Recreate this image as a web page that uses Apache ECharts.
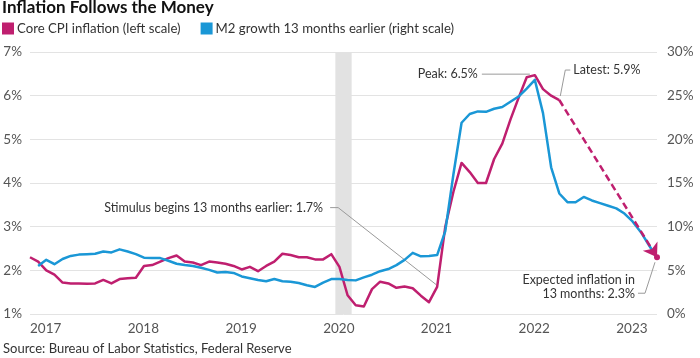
<!DOCTYPE html>
<html>
<head>
<meta charset="utf-8">
<script src="https://cdn.jsdelivr.net/npm/echarts@6/dist/echarts.min.js"></script>
<style>
html,body{margin:0;padding:0;background:#fff;}
#chart{width:700px;height:358px;}
</style>
</head>
<body>
<div id="chart"></div>
<script>
// Month index 0 = Jan 2017 ... 77 = Jun 2023
const yearLabels = ['2017','2018','2019','2020','2021','2022','2023'];
const lastMonthIndex = 77;

// Core CPI inflation, % y/y, Jan 2017 - Jun 2022 (left scale)
const coreCPI = [
  2.3,2.2,2.0,1.9,1.72,1.7,1.7,1.69,1.7,1.78,1.7,1.8,
  1.82,1.83,2.1,2.12,2.2,2.28,2.34,2.2,2.18,2.12,2.2,2.18,
  2.15,2.1,2.02,2.08,1.98,2.1,2.2,2.38,2.35,2.3,2.3,2.25,
  2.25,2.37,2.08,1.43,1.2,1.17,1.57,1.74,1.7,1.6,1.63,1.59,
  1.42,1.27,1.62,3.0,3.8,4.46,4.25,4.0,4.0,4.55,4.9,5.45,
  5.95,6.42,6.47,6.15,6.0,5.9
];

// M2 growth 13 months earlier, % y/y, plotted Jan 2017 - Jun 2023 (right scale)
const m2Lagged = [
  null,5.5,6.2,5.7,6.3,6.65,6.8,6.85,6.9,7.15,7.05,7.4,
  7.15,6.85,6.45,6.4,6.4,6.1,5.75,5.6,5.5,5.3,5.05,4.75,
  4.8,4.7,4.3,4.1,3.9,3.75,4.0,3.75,3.7,3.55,3.3,3.1,
  3.6,4.0,4.0,3.9,3.85,4.2,4.5,4.9,5.15,5.6,6.2,7.0,
  6.6,6.65,6.75,9.5,16.0,21.9,22.9,23.2,23.15,23.5,23.7,24.3,
  24.9,25.8,26.8,23.0,16.8,13.8,12.8,12.8,13.4,13.0,12.7,12.4,
  12.1,11.5,10.6,9.4,7.9,6.4
];

// Projection: latest core CPI (Jun 2022) to expected in 13 months (Jun 2023)
const projMonths = [65, 77];
const projValues = [5.9, 2.3];

// Recession shading (Feb-Apr 2020), month index
const recession = [37.5, 39.5];

// Annotated points
const peakPoint = [62, 6.47];
const stimulusPoint = [50, 1.65];

const MAG = '#bf1f6f';
const BLUE = '#1a97d6';
const FONT = 'Lato, "Noto Sans", sans-serif';

const cpiData = coreCPI.map((v, i) => [i, v]);
const m2Data = m2Lagged.map((v, i) => [i, v]);

const chart = echarts.init(document.getElementById('chart'), null, {renderer: 'canvas'});

const option = {
  animation: false,
  backgroundColor: '#fff',
  textStyle: {fontFamily: FONT},
  title: {
    text: 'Inflation Follows the Money',
    left: 2, top: -1, padding: 0,
    textStyle: {fontFamily: FONT, fontSize: 17, fontWeight: 'bold', color: '#111'}
  },
  legend: {
    left: 2, top: 22, padding: 0,
    itemWidth: 12, itemHeight: 12, itemGap: 20,
    icon: 'rect',
    textStyle: {fontFamily: FONT, fontSize: 13.2, color: '#333', padding: [0, 0, 0, -2]},
    data: ['Core CPI inflation (left scale)', 'M2 growth 13 months earlier (right scale)']
  },
  grid: {left: 30, right: 43, top: 52, bottom: 44, containLabel: false},
  xAxis: {
    type: 'value', min: 0, max: lastMonthIndex, interval: 12,
    axisLine: {show: false}, axisTick: {show: false}, splitLine: {show: false},
    axisLabel: {
      showMaxLabel: false,
      formatter: v => (v % 12 === 0 ? yearLabels[v / 12] : ''),
      align: 'left', margin: 8, color: '#555', fontSize: 13.5, fontFamily: FONT
    }
  },
  yAxis: [
    {
      type: 'value', min: 1, max: 7, interval: 1,
      axisLine: {show: false}, axisTick: {show: false},
      splitLine: {lineStyle: {color: '#e3e3e3', width: 1}},
      axisLabel: {formatter: '{value}%', color: '#555', fontSize: 13.5, margin: 8, fontFamily: FONT}
    },
    {
      type: 'value', min: 0, max: 30, interval: 5, position: 'right',
      axisLine: {show: false}, axisTick: {show: false}, splitLine: {show: false},
      axisLabel: {formatter: '{value}%', color: '#555', fontSize: 13.5, margin: 10, fontFamily: FONT}
    }
  ],
  series: [
    {
      name: 'Core CPI inflation (left scale)',
      type: 'line', yAxisIndex: 0, data: cpiData,
      showSymbol: false, symbol: 'none',
      lineStyle: {color: MAG, width: 2.5, join: 'round'},
      itemStyle: {color: MAG},
      z: 3,
      markArea: {
        silent: true,
        itemStyle: {color: '#e2e2e2'},
        data: [[{xAxis: recession[0]}, {xAxis: recession[1]}]],
        z: 1
      }
    },
    {
      name: 'M2 growth 13 months earlier (right scale)',
      type: 'line', yAxisIndex: 1, data: m2Data,
      showSymbol: false, symbol: 'none', connectNulls: false,
      lineStyle: {color: BLUE, width: 2.5, join: 'round'},
      itemStyle: {color: BLUE},
      z: 4
    },
    {
      name: 'projection',
      type: 'line', yAxisIndex: 0,
      data: [[projMonths[1], projValues[1]]],
      symbol: 'circle', symbolSize: 6, showSymbol: true,
      itemStyle: {color: MAG},
      lineStyle: {width: 0},
      z: 6,
      markLine: {
        silent: true,
        symbol: ['none', 'arrow'], symbolSize: 13,
        label: {show: false},
        itemStyle: {color: MAG},
        lineStyle: {color: MAG, width: 2.5, type: [7, 4]},
        data: [[{coord: [projMonths[0], projValues[0]]}, {coord: [projMonths[1], projValues[1]]}]],
        z: 7
      }
    }
  ]
};
chart.setOption(option);

const px = (p) => chart.convertToPixel({seriesIndex: 0}, p);
const pS = px(stimulusPoint);
const pP = px(peakPoint);
const pL = px([projMonths[0], projValues[0]]);
const pE = px([projMonths[1], projValues[1]]);
const annStyle = {fontFamily: FONT, fontSize: 12.5, fill: '#333'};
const lineStyle = {stroke: '#9a9a9a', lineWidth: 1, fill: null};

chart.setOption({
  graphic: [
    // Stimulus
    {type: 'polyline', silent: true, z: 2, shape: {points: [[pS[0] - 107, pS[1] - 78], [pS[0] - 99, pS[1] - 78], [pS[0] - 1, pS[1] - 1]]}, style: lineStyle},
    {type: 'text', silent: true, z: 10, x: pS[0] - 114, y: pS[1] - 78,
      style: Object.assign({text: 'Stimulus begins 13 months earlier: 1.7%', align: 'right', verticalAlign: 'middle'}, annStyle)},
    // Peak
    {type: 'polyline', silent: true, z: 2, shape: {points: [[pP[0] - 53, pP[1] - 1], [pP[0] - 5, pP[1] - 1]]}, style: lineStyle},
    {type: 'text', silent: true, z: 10, x: pP[0] - 57, y: pP[1] - 1,
      style: Object.assign({text: 'Peak: 6.5%', align: 'right', verticalAlign: 'middle'}, annStyle)},
    // Latest
    {type: 'polyline', silent: true, z: 2, shape: {points: [[pL[0] + 1, pL[1] - 4], [pL[0] + 6, pL[1] - 30], [pL[0] + 11, pL[1] - 30]]}, style: lineStyle},
    {type: 'text', silent: true, z: 10, x: pL[0] + 14, y: pL[1] - 30,
      style: Object.assign({text: 'Latest: 5.9%', align: 'left', verticalAlign: 'middle'}, annStyle)},
    // Expected
    {type: 'polyline', silent: true, z: 2, shape: {points: [[pE[0] - 2, pE[1] + 5], [pE[0] - 12, pE[1] + 36], [pE[0] - 19, pE[1] + 36]]}, style: lineStyle},
    {type: 'text', silent: true, z: 10, x: pE[0] - 22, y: pE[1] + 30,
      style: Object.assign({text: 'Expected inflation in\n13 months: 2.3%', align: 'right', verticalAlign: 'middle', lineHeight: 14}, annStyle)},
    // Source
    {type: 'text', silent: true, left: 3, top: 342,
      style: {text: 'Source: Bureau of Labor Statistics, Federal Reserve', fontFamily: FONT, fontSize: 13, fill: '#333'}}
  ]
});
</script>
</body>
</html>
